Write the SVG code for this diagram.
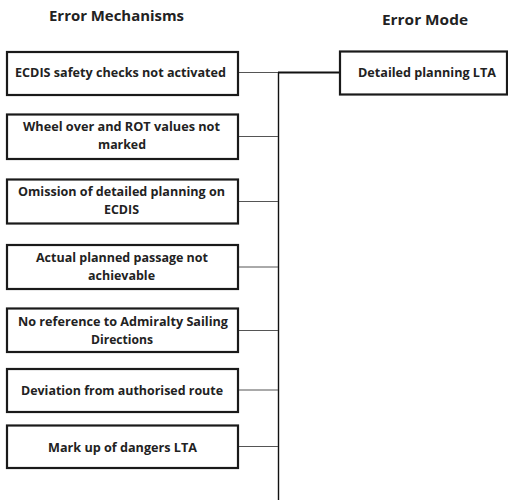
<svg xmlns="http://www.w3.org/2000/svg" width="508" height="500" viewBox="0 0 508 500">
<style>
.box{fill:#fff;stroke:#1a1a1a;stroke-width:2.2}
.t{font-family:"Open Sans",Lato,"Liberation Sans",sans-serif;font-weight:bold;font-size:12px;fill:#222;text-anchor:middle}
.h{font-family:"Open Sans",Lato,"Liberation Sans",sans-serif;font-weight:bold;font-size:13.5px;fill:#222;text-anchor:middle}
.c{stroke:#555;stroke-width:1;fill:none}
.cv{stroke:#111;stroke-width:1.4;fill:none}
.cm{stroke:#111;stroke-width:2;fill:none}
</style>
<rect width="508" height="500" fill="#fff"/>
<text class="h" x="116.5" y="21" textLength="135" lengthAdjust="spacingAndGlyphs">Error Mechanisms</text>
<text class="h" x="425" y="25" textLength="86" lengthAdjust="spacingAndGlyphs">Error Mode</text>
<g id="connectors">
<line class="cv" x1="278.5" y1="72" x2="278.5" y2="500"/>
<line class="cm" x1="278" y1="72.5" x2="340" y2="72.5"/>
<line class="c" x1="238" y1="72.5" x2="278" y2="72.5"/>
<line class="c" x1="238" y1="136.5" x2="278" y2="136.5"/>
<line class="c" x1="238" y1="201.5" x2="278" y2="201.5"/>
<line class="c" x1="238" y1="267" x2="278" y2="267"/>
<line class="c" x1="238" y1="330.5" x2="278" y2="330.5"/>
<line class="c" x1="238" y1="390" x2="278" y2="390"/>
<line class="c" x1="238" y1="446.5" x2="278" y2="446.5"/>
</g>
<g id="m1"><rect class="box" x="7" y="52" width="231" height="43"/>
<text class="t" x="120.5" y="77" textLength="211" lengthAdjust="spacingAndGlyphs">ECDIS safety checks not activated</text></g>
<g id="m2"><rect class="box" x="7" y="114.5" width="231" height="44.5"/>
<text class="t" x="121.5" y="131" textLength="197" lengthAdjust="spacingAndGlyphs">Wheel over and ROT values not</text>
<text class="t" x="122" y="149" textLength="48" lengthAdjust="spacingAndGlyphs">marked</text></g>
<g id="m3"><rect class="box" x="7" y="179.5" width="231" height="44"/>
<text class="t" x="121.5" y="196" textLength="207" lengthAdjust="spacingAndGlyphs">Omission of detailed planning on</text>
<text class="t" x="121.5" y="214" textLength="35" lengthAdjust="spacingAndGlyphs">ECDIS</text></g>
<g id="m4"><rect class="box" x="7" y="245" width="231" height="44"/>
<text class="t" x="122" y="261.5" textLength="172" lengthAdjust="spacingAndGlyphs">Actual planned passage not</text>
<text class="t" x="121.5" y="279.5" textLength="67" lengthAdjust="spacingAndGlyphs">achievable</text></g>
<g id="m5"><rect class="box" x="7" y="308.5" width="231" height="43.5"/>
<text class="t" x="123" y="326" textLength="210" lengthAdjust="spacingAndGlyphs">No reference to Admiralty Sailing</text>
<text class="t" x="122" y="344" textLength="62" lengthAdjust="spacingAndGlyphs">Directions</text></g>
<g id="m6"><rect class="box" x="7" y="369" width="231" height="43"/>
<text class="t" x="122" y="395" textLength="202" lengthAdjust="spacingAndGlyphs">Deviation from authorised route</text></g>
<g id="m7"><rect class="box" x="7" y="425.5" width="231" height="42.5"/>
<text class="t" x="122.5" y="451.5" textLength="149" lengthAdjust="spacingAndGlyphs">Mark up of dangers LTA</text></g>
<g id="mode"><rect class="box" x="340" y="51.5" width="167" height="43"/>
<text class="t" x="427" y="77" textLength="138" lengthAdjust="spacingAndGlyphs">Detailed planning LTA</text></g>
</svg>
